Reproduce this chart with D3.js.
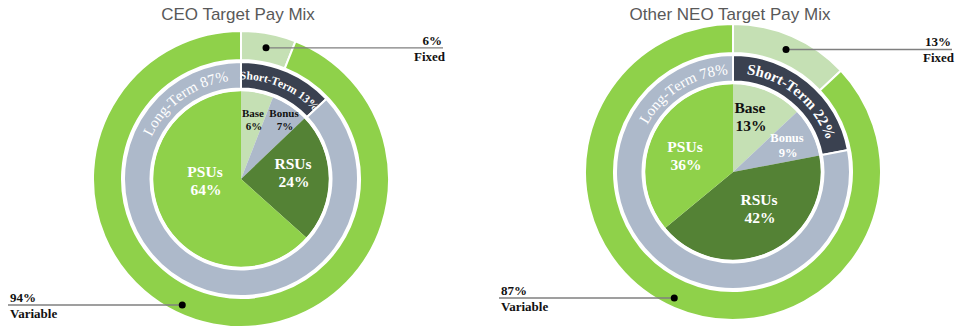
<!DOCTYPE html>
<html><head><meta charset="utf-8">
<script src="https://cdn.jsdelivr.net/npm/d3@7"></script>
<style>
html,body{margin:0;padding:0;background:#fff;}
svg{display:block;}
</style></head>
<body>
<svg id="chart" width="956" height="329"></svg>
<script>
// ---------- DATA ----------
const titles = ["CEO Target Pay Mix", "Other NEO Target Pay Mix"];

const pieCategories = ["Base", "Bonus", "RSUs", "PSUs"];
const ceoPieValues = [6, 7, 24, 64];
const neoPieValues = [13, 9, 42, 36];

const termCategories = ["Short-Term", "Long-Term"];
const ceoTermValues = [13, 87];
const neoTermValues = [22, 78];

const mixCategories = ["Fixed", "Variable"];
const ceoMixValues = [6, 94];
const neoMixValues = [13, 87];

// ---------- STYLE / LAYOUT ----------
const C = {
  green: "#8fd14a", light: "#c5e0b4", grey: "#adb9ca", dark: "#3a4150", dgreen: "#548235"
};
const pieColors = [C.light, C.grey, C.dgreen, C.green];
const termColors = [C.dark, C.grey];
const mixColors = [C.light, C.green];
const serif = "'Liberation Serif','Times New Roman',serif";

const layouts = [
  { cx: 241, cy: 179, pie: ceoPieValues, term: ceoTermValues, mix: ceoMixValues,
    pieLabels: [ {dx:12, dy:-59, size:11, fill:"#111"}, {dx:43, dy:-59, size:11, fill:"#111"},
                 {dx:52, dy:-6, size:15.5, fill:"#fff"}, {dx:-36, dy:2, size:15.5, fill:"#fff"} ],
    shortSize: 11.5, longSize: 15, longAngle: -36,
    fixedLabel: { x: 443, lineX: 443 }, varLabel: { x: 10, lineX: 8 } },
  { cx: 733, cy: 172, pie: neoPieValues, term: neoTermValues, mix: neoMixValues,
    pieLabels: [ {dx:17, dy:-55, size:15.5, fill:"#111"}, {dx:54, dy:-27, size:12.5, fill:"#fff"},
                 {dx:26, dy:37, size:15.5, fill:"#fff"}, {dx:-48, dy:-16, size:15.5, fill:"#fff"} ],
    shortSize: 15, longSize: 15, longAngle: -32,
    fixedLabel: { x: 952, lineX: 952 }, varLabel: { x: 501, lineX: 499 } }
];

const R = { pie: 88, termIn: 90.5, termOut: 117, mixIn: 119, mixOut: 148 };

const svg = d3.select("#chart");
const pie = d3.pie().sort(null).value(d => d).startAngle(0).endAngle(2 * Math.PI);
const rad = a => a * Math.PI / 180;
const polar = (angDeg, r) => [r * Math.sin(rad(angDeg)), -r * Math.cos(rad(angDeg))];

layouts.forEach((L, idx) => {
  // title
  svg.append("text").attr("x", L.cx - 3).attr("y", 20)
    .attr("text-anchor", "middle")
    .attr("font-family", "'Liberation Sans',Arial,sans-serif")
    .attr("font-size", 17).attr("fill", "#595959")
    .text(titles[idx]);

  const g = svg.append("g").attr("transform", `translate(${L.cx},${L.cy})`);

  // outer ring: fixed vs variable
  const mixArcs = pie(L.mix);
  const mixArc = d3.arc().innerRadius(R.mixIn).outerRadius(R.mixOut);
  g.selectAll(".mix").data(mixArcs).join("path")
    .attr("d", mixArc).attr("fill", (d, i) => mixColors[i])
    .attr("stroke", "#fff").attr("stroke-width", 2);

  // middle ring: short vs long term
  const termArcs = pie(L.term);
  const termArc = d3.arc().innerRadius(R.termIn).outerRadius(R.termOut);
  g.selectAll(".term").data(termArcs).join("path")
    .attr("d", termArc).attr("fill", (d, i) => termColors[i])
    .attr("stroke", "#fff").attr("stroke-width", 2);

  // inner pie
  const pieArcs = pie(L.pie);
  const pieArc = d3.arc().innerRadius(0).outerRadius(R.pie);
  g.selectAll(".slice").data(pieArcs).join("path")
    .attr("d", pieArc).attr("fill", (d, i) => pieColors[i]);
  g.append("circle").attr("r", R.pie + 0.5).attr("fill", "none")
    .attr("stroke", "#fff").attr("stroke-width", 1.5);

  // curved term labels: each glyph placed along the arc
  function arcText(centerDeg, r, text, size, weight) {
    const grp = g.append("g").attr("font-family", serif).attr("font-size", size)
      .attr("font-weight", weight).attr("fill", "#fff");
    const tmp = grp.append("text").text(text);
    const node = tmp.node();
    const widths = [];
    for (let i = 0; i < text.length; i++) widths.push(node.getSubStringLength(i, 1));
    const W = widths.reduce((a, b) => a + b, 0);
    tmp.remove();
    const startDeg = centerDeg - (W / r) * 180 / Math.PI / 2;
    let cum = 0;
    for (let i = 0; i < text.length; i++) {
      const ang = startDeg + ((cum + widths[i] / 2) / r) * 180 / Math.PI;
      cum += widths[i];
      if (text[i] === " ") continue;
      grp.append("text").attr("text-anchor", "middle")
        .attr("transform", `rotate(${ang}) translate(0,${-r})`)
        .text(text[i]);
    }
  }
  const shortMid = (termArcs[0].startAngle + termArcs[0].endAngle) / 2 * 180 / Math.PI;
  const rText = (R.termIn + R.termOut) / 2 - (idx === 0 ? 4 : 5);
  arcText(shortMid, rText, `${termCategories[0]} ${L.term[0]}%`, L.shortSize, "bold");
  arcText(L.longAngle, rText - 1, `${termCategories[1]} ${L.term[1]}%`, L.longSize, "normal");

  // pie labels
  pieArcs.forEach((d, i) => {
    const lp = L.pieLabels[i];
    const lh = lp.size * 1.16;
    const base = lp.size * 0.35;
    g.append("text").attr("font-family", serif).attr("font-weight", "bold")
      .attr("font-size", lp.size).attr("fill", lp.fill).attr("text-anchor", "middle")
      .attr("x", lp.dx).attr("y", lp.dy - lh / 2 + base).text(pieCategories[i]);
    g.append("text").attr("font-family", serif).attr("font-weight", "bold")
      .attr("font-size", lp.size).attr("fill", lp.fill).attr("text-anchor", "middle")
      .attr("x", lp.dx + 1).attr("y", lp.dy + lh / 2 + base).text(L.pie[i] + "%");
  });

  // callouts
  const fixedMid = (mixArcs[0].startAngle + mixArcs[0].endAngle) / 2 * 180 / Math.PI;
  const fp = polar(fixedMid, (R.mixIn + R.mixOut) / 2);
  const vp = polar(205, 139);
  const fxAbs = [L.cx + fp[0], L.cy + fp[1]];
  const vAbs = [L.cx + vp[0], L.cy + vp[1]];

  svg.append("line").attr("x1", fxAbs[0]).attr("y1", fxAbs[1])
    .attr("x2", L.fixedLabel.lineX).attr("y2", fxAbs[1])
    .attr("stroke", "#7f7f7f").attr("stroke-width", 1.3);
  svg.append("circle").attr("cx", fxAbs[0]).attr("cy", fxAbs[1]).attr("r", 3.5).attr("fill", "#000");
  svg.append("text").attr("x", L.fixedLabel.x - 1).attr("y", fxAbs[1] - 3)
    .attr("text-anchor", "end").attr("font-family", serif).attr("font-weight", "bold")
    .attr("font-size", 13).attr("fill", "#111").text(L.mix[0] + "%");
  svg.append("text").attr("x", L.fixedLabel.x + 2).attr("y", fxAbs[1] + 13)
    .attr("text-anchor", "end").attr("font-family", serif).attr("font-weight", "bold")
    .attr("font-size", 13).attr("fill", "#111").text(mixCategories[0]);

  svg.append("line").attr("x1", L.varLabel.lineX).attr("y1", vAbs[1])
    .attr("x2", vAbs[0]).attr("y2", vAbs[1])
    .attr("stroke", "#7f7f7f").attr("stroke-width", 1.3);
  svg.append("circle").attr("cx", vAbs[0]).attr("cy", vAbs[1]).attr("r", 3.5).attr("fill", "#000");
  svg.append("text").attr("x", L.varLabel.x).attr("y", vAbs[1] - 3)
    .attr("font-family", serif).attr("font-weight", "bold")
    .attr("font-size", 13).attr("fill", "#111").text(L.mix[1] + "%");
  svg.append("text").attr("x", L.varLabel.x).attr("y", vAbs[1] + 13)
    .attr("font-family", serif).attr("font-weight", "bold")
    .attr("font-size", 13).attr("fill", "#111").text(mixCategories[1]);
});
</script>
</body></html>
